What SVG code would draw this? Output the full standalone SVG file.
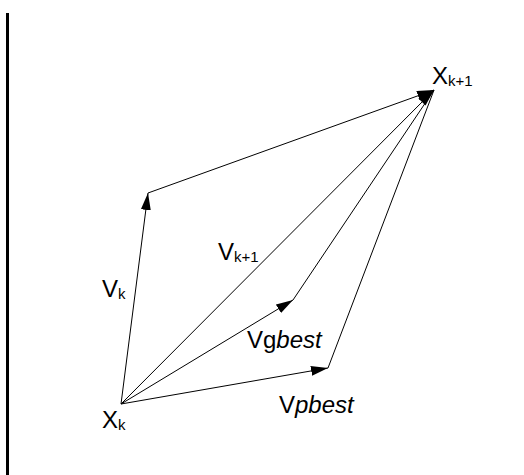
<svg xmlns="http://www.w3.org/2000/svg" width="524" height="475" viewBox="0 0 524 475">
<style>
.v{stroke:#000;stroke-width:1;fill:none}
.t{font-family:"Liberation Sans",Arial,sans-serif;font-size:24px;fill:#000}
.s{font-size:15px}
.i{font-style:italic}
</style>
<defs>
<marker id="ah" markerUnits="userSpaceOnUse" markerWidth="18" markerHeight="11" refX="17" refY="5" orient="auto">
<path d="M0,0 L17,5 L0,10 z" fill="#000"/>
</marker>
</defs>
<rect x="6" y="13" width="3" height="462" fill="#000"/>
<g id="connectors">
<line class="v" x1="121" y1="404" x2="148" y2="193" marker-end="url(#ah)"/>
<line class="v" x1="148" y1="193" x2="434" y2="90" marker-end="url(#ah)"/>
<line class="v" x1="121" y1="404" x2="434" y2="90" marker-end="url(#ah)"/>
<line class="v" x1="121" y1="404" x2="293" y2="300" marker-end="url(#ah)"/>
<line class="v" x1="293" y1="300" x2="434" y2="90"/>
<line class="v" x1="121" y1="404" x2="328" y2="368" marker-end="url(#ah)"/>
<line class="v" x1="328" y1="368" x2="434" y2="90"/>
</g>
<g id="xk1"><text class="t" x="432" y="84">X<tspan class="s" dy="2">k+1</tspan></text></g>
<g id="xk"><text class="t" x="102" y="428">X<tspan class="s" dy="2">k</tspan></text></g>
<g id="vk"><text class="t" x="102" y="297">V<tspan class="s" dy="2">k</tspan></text></g>
<g id="vk1"><text class="t" x="218" y="260">V<tspan class="s" dy="2">k+1</tspan></text></g>
<g id="vgbest"><text class="t" x="247" y="348">Vg<tspan class="i">best</tspan></text></g>
<g id="vpbest"><text class="t" x="279" y="413">V<tspan class="i">pbest</tspan></text></g>
</svg>
